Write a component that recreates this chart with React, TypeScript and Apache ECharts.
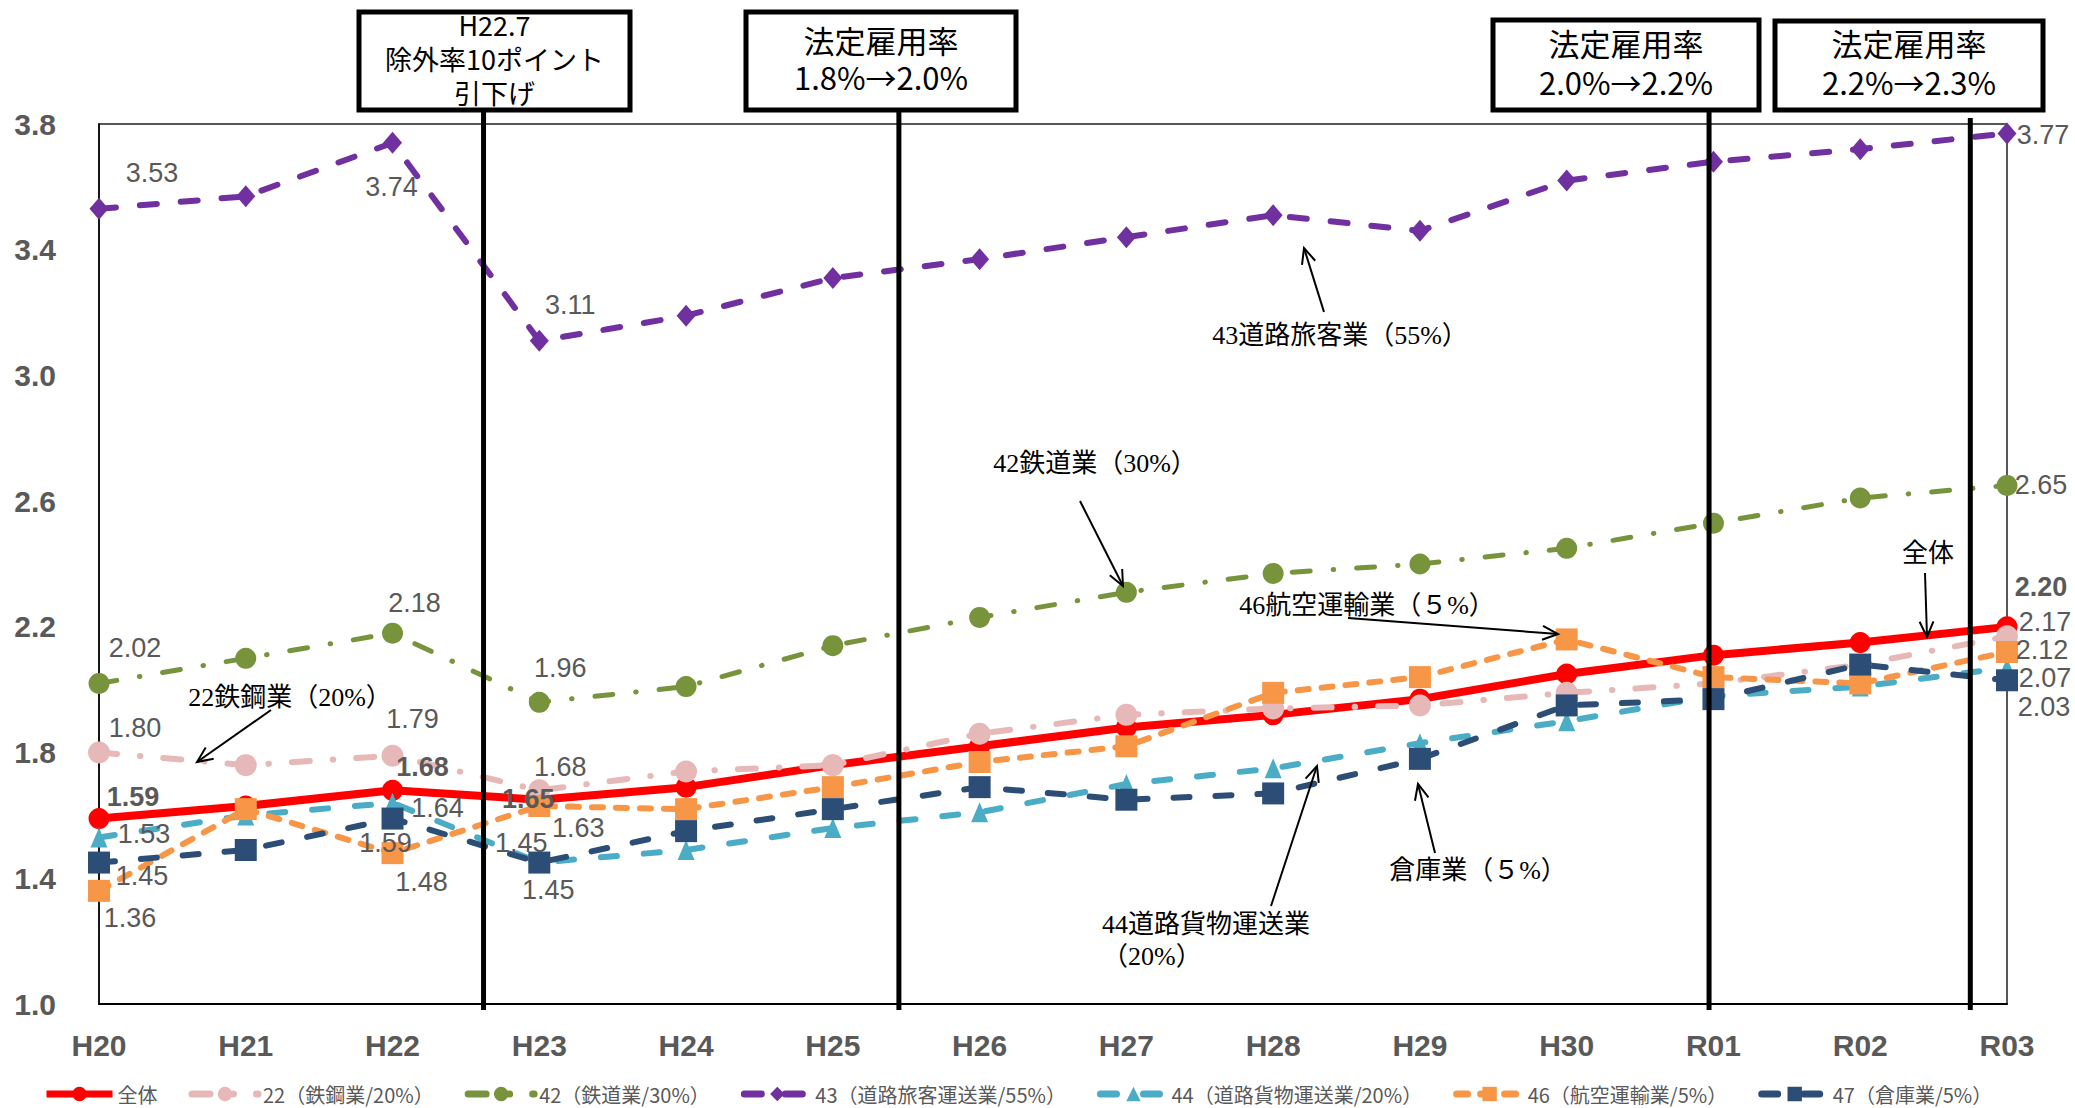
import React, { useEffect, useRef } from "react";
import * as echarts from "echarts";

const categories = ["H20", "H21", "H22", "H23", "H24", "H25", "H26", "H27", "H28", "H29", "H30", "R01", "R02", "R03"];

const seriesNames = [
  "全体",
  "22（鉄鋼業/20%）",
  "42（鉄道業/30%）",
  "43（道路旅客運送業/55%）",
  "44（道路貨物運送業/20%）",
  "46（航空運輸業/5%）",
  "47（倉庫業/5%）",
];

const totalAll = [1.59, 1.63, 1.68, 1.65, 1.69, 1.76, 1.82, 1.88, 1.92, 1.97, 2.05, 2.11, 2.15, 2.2];
const steel22 = [1.8, 1.76, 1.79, 1.68, 1.74, 1.76, 1.86, 1.92, 1.94, 1.95, 1.99, 2.02, 2.08, 2.17];
const railway42 = [2.02, 2.1, 2.18, 1.96, 2.01, 2.14, 2.23, 2.31, 2.37, 2.4, 2.45, 2.53, 2.61, 2.65];
const roadPassenger43 = [3.53, 3.57, 3.74, 3.11, 3.19, 3.31, 3.37, 3.44, 3.51, 3.46, 3.62, 3.68, 3.72, 3.77];
const roadFreight44 = [1.53, 1.6, 1.64, 1.45, 1.49, 1.56, 1.61, 1.7, 1.75, 1.83, 1.9, 1.98, 2.01, 2.07];
const air46 = [1.36, 1.62, 1.48, 1.63, 1.62, 1.69, 1.77, 1.82, 1.99, 2.04, 2.16, 2.04, 2.02, 2.12];
const warehouse47 = [1.45, 1.49, 1.59, 1.45, 1.55, 1.62, 1.69, 1.65, 1.67, 1.78, 1.95, 1.97, 2.08, 2.03];

const yMin = 1.0;
const yMax = 3.8;
const yInterval = 0.4;

// positions (in category units) of the regulatory change lines
const eventLines = [2.62, 5.45, 10.97, 12.75];
const eventTexts = [
  "H22.7\n除外率10ポイント\n引下げ",
  "法定雇用率\n1.8%→2.0%",
  "法定雇用率\n2.0%→2.2%",
  "法定雇用率\n2.2%→2.3%",
];

// label offsets [dx, dy] per labelled point (index -> offset)
type Off = Record<number, [number, number]>;
const offTotal: Off = { 0: [34, -22], 2: [30, -23], 3: [-11, -1], 13: [34, -40] };
const off22: Off = { 0: [36, -25], 2: [20, -37], 3: [21, -23], 13: [38, -14] };
const off42: Off = { 0: [36, -35], 2: [22, -30], 3: [21, -34], 13: [34, 0] };
const off43: Off = { 0: [53, -36], 2: [-1, 44], 3: [31, -36], 13: [36, 2] };
const off44: Off = { 0: [45, -3], 2: [45, 5], 3: [-18, -20], 13: [38, 10] };
const off46: Off = { 0: [31, 27], 2: [29, 29], 3: [39, 22], 13: [35, -2] };
const off47: Off = { 0: [43, 13], 2: [-7, 24], 3: [9, 27], 13: [37, 27] };

const LABEL_FONT = "'Liberation Sans', Arial, sans-serif";
const CJK = "'Noto Sans CJK JP', sans-serif";
const SERIF_CJK = "'Liberation Serif', 'Noto Sans CJK JP', serif";

function makeSeries(
  name: string,
  values: number[],
  color: string,
  symbol: string,
  symbolSize: any,
  width: number,
  dash: any,
  offsets: Off,
  bold: boolean
) {
  return {
    type: "line",
    name,
    symbol,
    symbolSize,
    showAllSymbol: true,
    lineStyle: { color, width, type: dash, cap: dash === "solid" ? "butt" : "round" },
    itemStyle: { color },
    label: {
      show: false,
      color: "#595959",
      fontSize: 27,
      fontFamily: LABEL_FONT,
      fontWeight: bold ? "bold" : "normal",
      formatter: (p: any) => Number(p.value[1]).toFixed(2),
    },
    emphasis: { disabled: true },
    data: values.map((v, i) => {
      const item: any = { value: [i, v] };
      const o = offsets[i];
      if (o) item.label = { show: true, position: "inside", offset: o };
      return item;
    }),
  };
}

function arrow(x1: number, y1: number, x2: number, y2: number) {
  const ang = Math.atan2(y2 - y1, x2 - x1);
  const L = 17;
  const a = 0.42;
  return [
    { type: "line", z: 20, shape: { x1, y1, x2, y2 }, style: { stroke: "#000", lineWidth: 2 } },
    {
      type: "polyline",
      z: 20,
      shape: {
        points: [
          [x2 - L * Math.cos(ang - a), y2 - L * Math.sin(ang - a)],
          [x2, y2],
          [x2 - L * Math.cos(ang + a), y2 - L * Math.sin(ang + a)],
        ],
      },
      style: { stroke: "#000", lineWidth: 2, fill: "none" },
    },
  ];
}

export default function App() {
  const ref = useRef<HTMLDivElement>(null);
  useEffect(() => {
    document.body.style.margin = "0";
    if (!ref.current) return;
    const chart = echarts.init(ref.current, undefined, { renderer: "svg" });
    const dashDot = [18, 23, 0.5, 23];
    const option: any = {
      animation: false,
      backgroundColor: "#ffffff",
      grid: {
        left: 99,
        right: 68,
        top: 124,
        bottom: 104,
        show: true,
        borderColor: "#222",
        borderWidth: 1.5,
        backgroundColor: "transparent",
      },
      legend: {
        data: seriesNames,
        left: 38,
        top: 1079,
        itemWidth: 66,
        itemHeight: 18,
        itemGap: 31,
        lineStyle: { width: 7 },
        textStyle: { color: "#595959", fontSize: 20, fontFamily: CJK },
      },
      xAxis: {
        type: "value",
        min: 0,
        max: categories.length - 1,
        interval: 1,
        axisLine: { show: true, lineStyle: { color: "#000", width: 2 } },
        axisTick: { show: false },
        splitLine: { show: false },
        axisLabel: {
          margin: 26,
          color: "#595959",
          fontSize: 30,
          fontWeight: "bold",
          fontFamily: LABEL_FONT,
          formatter: (v: number) => categories[Math.round(v)] ?? "",
        },
      },
      yAxis: {
        type: "value",
        min: yMin,
        max: yMax,
        interval: yInterval,
        axisLine: { show: true, lineStyle: { color: "#000", width: 1.5 } },
        axisTick: { show: false },
        splitLine: { show: false },
        axisLabel: {
          margin: 43,
          color: "#595959",
          fontSize: 30,
          fontWeight: "bold",
          fontFamily: LABEL_FONT,
          formatter: (v: number) => v.toFixed(1),
        },
      },
      series: [
        makeSeries(seriesNames[0], totalAll, "#FF0000", "circle", 21, 8, "solid", offTotal, true),
        makeSeries(seriesNames[1], steel22, "#E6B9B8", "circle", 22, 6, dashDot, off22, false),
        makeSeries(seriesNames[2], railway42, "#77933C", "circle", 21, 5, dashDot, off42, false),
        makeSeries(seriesNames[3], roadPassenger43, "#7030A0", "diamond", [19, 22], 6, [17, 24], off43, false),
        makeSeries(seriesNames[4], roadFreight44, "#4BACC6", "triangle", [17, 20], 6, [16, 27], off44, false),
        makeSeries(seriesNames[5], air46, "#F79646", "rect", 22, 6, [11, 13], off46, false),
        makeSeries(seriesNames[6], warehouse47, "#2C4D75", "rect", 22, 6, [16, 26], off47, false),
      ],
    };
    chart.setOption(option);

    const yBottom = chart.convertToPixel({ yAxisIndex: 0 }, yMin) as number;
    const boxes = [
      { x1: 359, x2: 630, y1: 12, y2: 110, fs: 27, lh: 34, cy: 58 },
      { x1: 746, x2: 1016, y1: 12, y2: 110, fs: 31, lh: 37, cy: 58 },
      { x1: 1493, x2: 1759, y1: 20, y2: 110, fs: 31, lh: 39, cy: 62 },
      { x1: 1775, x2: 2043, y1: 21, y2: 110, fs: 31, lh: 39, cy: 62 },
    ];
    const lineTops = [110, 110, 110, 118];
    const graphics: any[] = [];
    eventLines.forEach((v, i) => {
      const x = chart.convertToPixel({ xAxisIndex: 0 }, v) as number;
      graphics.push({
        type: "line",
        z: 15,
        shape: { x1: x, y1: lineTops[i], x2: x, y2: yBottom + 6 },
        style: { stroke: "#000", lineWidth: 5 },
      });
      const b = boxes[i];
      graphics.push({
        type: "rect",
        z: 16,
        shape: { x: b.x1, y: b.y1, width: b.x2 - b.x1, height: b.y2 - b.y1 },
        style: { fill: "#fff", stroke: null },
      });
      graphics.push({
        type: "text",
        z: 17,
        x: (b.x1 + b.x2) / 2,
        y: b.cy,
        style: {
          text: eventTexts[i],
          align: "center",
          verticalAlign: "middle",
          fontSize: b.fs,
          lineHeight: b.lh,
          fontFamily: CJK,
          fill: "#000",
        },
      });
      graphics.push({
        type: "rect",
        z: 18,
        shape: { x: b.x1, y: b.y1, width: b.x2 - b.x1, height: b.y2 - b.y1 },
        style: { fill: "none", stroke: "#000", lineWidth: 5 },
      });
    });

    const notes = [
      { t: "43道路旅客業（55%）", x: 1340, y: 335, a: [1324, 312, 1304, 248] },
      { t: "42鉄道業（30%）", x: 1095, y: 463, a: [1080, 501, 1123, 586] },
      { t: "46航空運輸業（５%）", x: 1367, y: 605, a: [1348, 618, 1558, 634] },
      { t: "全体", x: 1928, y: 553, a: [1925, 573, 1927, 637] },
      { t: "22鉄鋼業（20%）", x: 290, y: 697, a: [271, 710, 197, 762] },
      { t: "倉庫業（５%）", x: 1478, y: 870, a: [1435, 853, 1418, 784] },
    ];
    notes.forEach((n) => {
      graphics.push({
        type: "text",
        z: 20,
        x: n.x,
        y: n.y,
        style: {
          text: n.t,
          align: "center",
          verticalAlign: "middle",
          fontSize: 26,
          fontFamily: SERIF_CJK,
          fill: "#000",
        },
      });
      graphics.push(...arrow(n.a[0], n.a[1], n.a[2], n.a[3]));
    });
    graphics.push({
      type: "text",
      z: 20,
      x: 1102,
      y: 940,
      style: {
        text: "44道路貨物運送業\n（20%）",
        align: "left",
        verticalAlign: "middle",
        fontSize: 26,
        lineHeight: 32,
        fontFamily: SERIF_CJK,
        fill: "#000",
      },
    });
    graphics.push(...arrow(1271, 906, 1317, 766));

    chart.setOption({ graphic: graphics });

    return () => chart.dispose();
  }, []);
  return <div ref={ref} style={{ width: 2075, height: 1108 }} />;
}
